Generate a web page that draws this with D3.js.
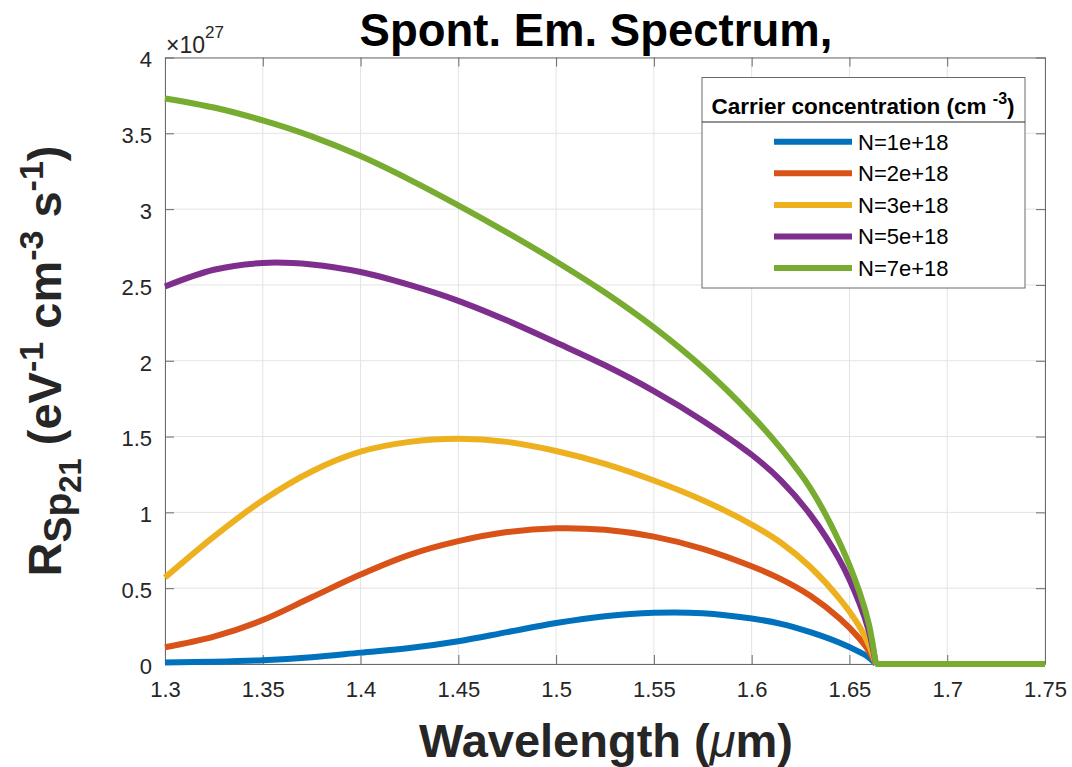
<!DOCTYPE html>
<html>
<head>
<meta charset="utf-8">
<script src="https://cdn.jsdelivr.net/npm/d3@7"></script>
<style>
  body { margin: 0; background: #fff; }
  text { font-family: "Liberation Sans", Arial, Helvetica, sans-serif; }
</style>
</head>
<body>
<script>
// wavelength samples (um) and spectra in units of 1e27 eV^-1 cm^-3 s^-1
const wavelength = [1.3, 1.325, 1.35, 1.375, 1.4, 1.425, 1.45, 1.475, 1.5, 1.525,
                    1.55, 1.575, 1.6, 1.615, 1.63, 1.645, 1.655, 1.66, 1.6635];
const tailWavelength = [1.6635, 1.75];
const tailValues = [0, 0];

const n1e18 = [0.01, 0.015, 0.025, 0.045, 0.075, 0.105, 0.15, 0.21, 0.27, 0.315,
               0.338, 0.335, 0.30, 0.265, 0.21, 0.14, 0.08, 0.043, 0];
const n2e18 = [0.11, 0.18, 0.29, 0.44, 0.59, 0.72, 0.81, 0.87, 0.895, 0.885,
               0.84, 0.76, 0.645, 0.56, 0.45, 0.30, 0.17, 0.085, 0];
const n3e18 = [0.57, 0.84, 1.08, 1.27, 1.40, 1.465, 1.485, 1.465, 1.405, 1.32,
               1.21, 1.08, 0.92, 0.80, 0.64, 0.43, 0.25, 0.125, 0];
const n5e18 = [2.49, 2.60, 2.645, 2.635, 2.585, 2.50, 2.395, 2.265, 2.12, 1.97,
               1.80, 1.605, 1.38, 1.21, 0.985, 0.685, 0.405, 0.215, 0];
const n7e18 = [3.73, 3.67, 3.585, 3.48, 3.35, 3.195, 3.025, 2.845, 2.655, 2.45,
               2.22, 1.955, 1.64, 1.42, 1.16, 0.80, 0.48, 0.26, 0];

const seriesNames = ["N=1e+18", "N=2e+18", "N=3e+18", "N=5e+18", "N=7e+18"];
const seriesValues = [n1e18, n2e18, n3e18, n5e18, n7e18];
const seriesColors = ["#0072BD", "#D95319", "#EDB120", "#7E2F8E", "#77AC30"];

const xTicks = [1.3, 1.35, 1.4, 1.45, 1.5, 1.55, 1.6, 1.65, 1.7, 1.75];
const yTicks = [0, 0.5, 1, 1.5, 2, 2.5, 3, 3.5, 4];

const width = 1072, height = 767;
const plotLeft = 165, plotRight = 1045, plotTop = 57.5, plotBottom = 664;

const svg = d3.select("body").append("svg")
    .attr("width", width)
    .attr("height", height);

const x = d3.scaleLinear().domain([1.3, 1.75]).range([plotLeft, plotRight]);
const y = d3.scaleLinear().domain([0, 4]).range([plotBottom, plotTop]);

// grid
svg.append("g").selectAll("line")
    .data(xTicks)
    .enter().append("line")
    .attr("x1", d => x(d)).attr("x2", d => x(d))
    .attr("y1", plotTop).attr("y2", plotBottom)
    .style("stroke", "#e3e3e3");
svg.append("g").selectAll("line")
    .data(yTicks)
    .enter().append("line")
    .attr("x1", plotLeft).attr("x2", plotRight)
    .attr("y1", d => y(d)).attr("y2", d => y(d))
    .style("stroke", "#e3e3e3");

// axes (box with inward ticks)
const tickLen = 9;
const axisColor = "#6a6a6a";
const labelColor = "#262626";

const xAxis = svg.append("g")
    .attr("transform", "translate(0," + plotBottom + ")")
    .call(d3.axisBottom(x).tickValues(xTicks).tickFormat(d3.format("~g"))
        .tickSizeInner(-tickLen).tickSizeOuter(0).tickPadding(14));
const xAxisTop = svg.append("g")
    .attr("transform", "translate(0," + plotTop + ")")
    .call(d3.axisTop(x).tickValues(xTicks).tickFormat("")
        .tickSizeInner(-tickLen).tickSizeOuter(0));
const yAxis = svg.append("g")
    .attr("transform", "translate(" + plotLeft + ",0)")
    .call(d3.axisLeft(y).tickValues(yTicks).tickFormat(d3.format("~g"))
        .tickSizeInner(-tickLen).tickSizeOuter(0).tickPadding(13));
const yAxisRight = svg.append("g")
    .attr("transform", "translate(" + plotRight + ",0)")
    .call(d3.axisRight(y).tickValues(yTicks).tickFormat("")
        .tickSizeInner(-tickLen).tickSizeOuter(0));

[xAxis, xAxisTop, yAxis, yAxisRight].forEach(function (g) {
    g.selectAll(".domain").style("stroke", axisColor);
    g.selectAll(".tick line").style("stroke", axisColor);
    g.selectAll(".tick text")
        .style("font-family", "'Liberation Sans', Arial, sans-serif")
        .style("font-size", "22px")
        .style("fill", labelColor);
});
yAxis.selectAll(".tick text").attr("dy", "0.42em");
xAxis.selectAll(".tick text").attr("dy", "0.85em");

// exponent label
const expo = svg.append("text")
    .attr("x", 166)
    .attr("y", 53)
    .style("font-size", "23px")
    .style("fill", labelColor);
expo.append("tspan").text("\u00d710");
expo.append("tspan").text("27")
    .attr("dy", -15)
    .style("font-size", "17px");

// curves
const line = d3.line()
    .x((d, i) => x(wavelength[i]))
    .y(d => y(d))
    .curve(d3.curveCatmullRom.alpha(0.5));
const tail = d3.line()
    .x((d, i) => x(tailWavelength[i]))
    .y(d => y(d));

seriesValues.forEach(function (vals, k) {
    svg.append("path")
        .attr("d", line(vals))
        .style("fill", "none")
        .style("stroke", seriesColors[k])
        .style("stroke-width", 6)
        .style("stroke-linejoin", "round");
    svg.append("path")
        .attr("d", tail(tailValues))
        .style("fill", "none")
        .style("stroke", seriesColors[k])
        .style("stroke-width", 6)
        .style("stroke-linejoin", "round");
});

// title
svg.append("text")
    .text("Spont. Em. Spectrum,")
    .attr("x", 596)
    .attr("y", 46)
    .attr("text-anchor", "middle")
    .style("font-size", "45.5px")
    .style("font-weight", "bold")
    .style("fill", "#000");

// x label
const xl = svg.append("text")
    .attr("x", 606)
    .attr("y", 757)
    .attr("text-anchor", "middle")
    .style("font-size", "47px")
    .style("font-weight", "bold")
    .style("fill", labelColor);
xl.append("tspan").text("Wavelength (");
xl.append("tspan").text("\u03bc").style("font-style", "italic").style("font-weight", "normal");
xl.append("tspan").text("m)");

// y label
const yl = svg.append("text")
    .attr("transform", "translate(61,361) rotate(-90)")
    .attr("text-anchor", "middle")
    .style("font-size", "47px")
    .style("font-weight", "bold")
    .style("fill", labelColor);
yl.append("tspan").text("R");
yl.append("tspan").text("Sp").attr("dy", 10).style("font-size", "39px");
yl.append("tspan").text("21").attr("dy", 10).style("font-size", "31px");
yl.append("tspan").text(" (eV").attr("dy", -20);
yl.append("tspan").text("-1").attr("dy", -18).style("font-size", "34px");
yl.append("tspan").text(" cm").attr("dy", 18);
yl.append("tspan").text("-3").attr("dy", -18).style("font-size", "34px");
yl.append("tspan").text(" s").attr("dy", 18);
yl.append("tspan").text("-1").attr("dy", -18).style("font-size", "34px");
yl.append("tspan").text(")").attr("dy", 18);

// legend
const lg = svg.append("g");
lg.append("rect")
    .attr("x", 702).attr("y", 77.5)
    .attr("width", 323).attr("height", 210.5)
    .style("fill", "#fff")
    .style("stroke", "#6a6a6a")
    .style("stroke-width", 1);
lg.append("line")
    .attr("x1", 702).attr("x2", 1025)
    .attr("y1", 122).attr("y2", 122)
    .style("stroke", "#262626");
const lt = lg.append("text")
    .attr("x", 863)
    .attr("y", 114)
    .attr("text-anchor", "middle")
    .style("font-size", "22.5px")
    .style("font-weight", "bold")
    .style("fill", "#000");
lt.append("tspan").text("Carrier concentration (cm ");
lt.append("tspan").text("-3").attr("dy", -10).style("font-size", "16px");
lt.append("tspan").text(")").attr("dy", 10);

const rows = lg.selectAll(".entry")
    .data(seriesNames)
    .enter().append("g")
    .attr("class", "entry")
    .attr("transform", (d, i) => "translate(0," + (141.7 + 31.6 * i) + ")");
rows.append("line")
    .attr("x1", 774).attr("x2", 852)
    .attr("y1", 0).attr("y2", 0)
    .style("stroke", (d, i) => seriesColors[i])
    .style("stroke-width", 6);
rows.append("text")
    .text(d => d)
    .attr("x", 858)
    .attr("y", 0)
    .attr("dy", "0.36em")
    .style("font-size", "22px")
    .style("fill", "#000");
</script>
</body>
</html>
